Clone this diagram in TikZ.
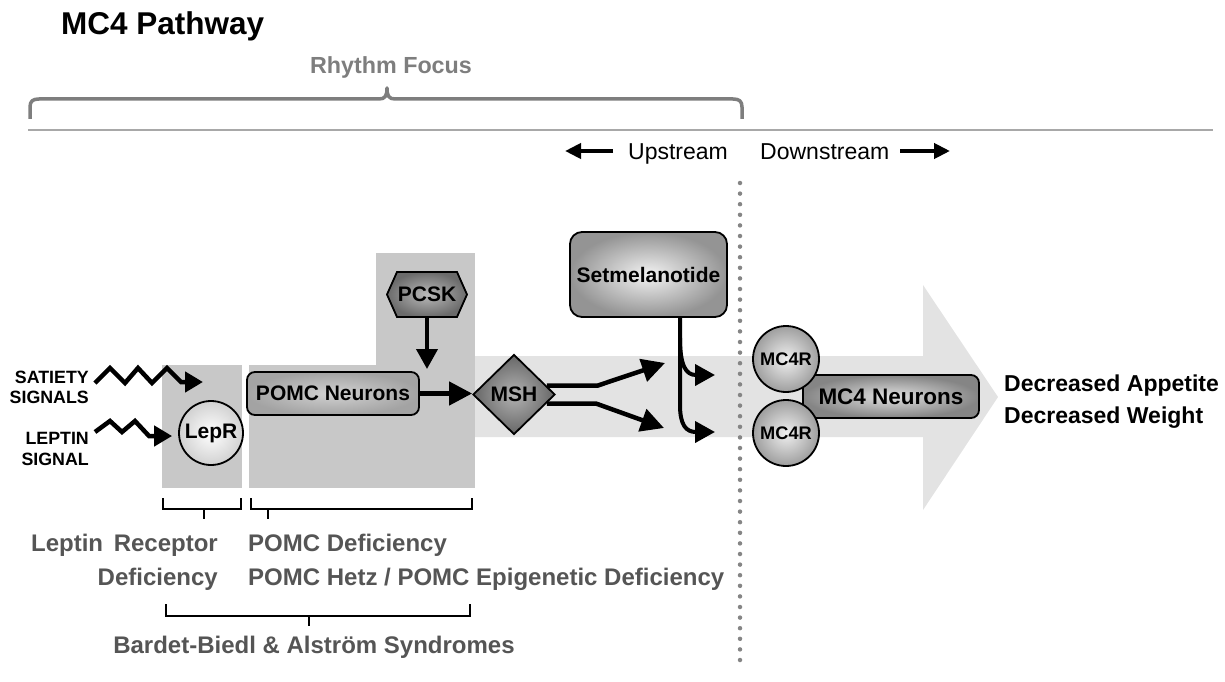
\documentclass[tikz,border=0pt]{standalone}
\usepackage{fontspec}
\setmainfont{Liberation Sans}
\usetikzlibrary{arrows.meta,shapes.geometric,calc}
\pgfdeclarelayer{bg}
\pgfdeclarelayer{mid}
\pgfsetlayers{bg,mid,main}
\definecolor{boxgray}{HTML}{C8C8C8}
\definecolor{arrgray}{HTML}{E3E3E3}
\definecolor{labgray}{HTML}{555555}
\definecolor{rhygray}{HTML}{7E7E7E}
\definecolor{linegray}{HTML}{A8A8A8}
\definecolor{dotgray}{HTML}{858585}
\tikzset{
  fs/.style={font=\fontsize{#1}{#1}\selectfont\bfseries},
  fr/.style={font=\fontsize{#1}{#1}\selectfont},
  nodebase/.style={draw=black, line width=1.8pt, text=black, inner sep=0pt, fs=21},
  pomcbox/.style={nodebase, rounded corners=8pt, minimum width=172pt, minimum height=43pt, inner color=white!82!black, outer color=white!64!black},
  setbox/.style={nodebase, rounded corners=12pt, minimum width=157pt, minimum height=85pt, inner color=white!95!black, outer color=white!58!black},
  neuronbox/.style={nodebase, fs=22.5, rounded corners=8pt, minimum width=176pt, minimum height=43pt, inner color=white!88!black, outer color=white!52!black},
  receptor/.style={nodebase, fs=18.2, circle, minimum size=66pt, inner color=white!94!black, outer color=white!62!black},
  leprc/.style={nodebase, circle, minimum size=64pt, inner color=white, outer color=white!82!black},
  mshd/.style={nodebase, diamond, minimum width=82pt, minimum height=80pt, inner color=white!70!black, outer color=white!40!black},
  hexfill/.style={draw=black, line width=1.8pt, inner color=white!73!black, outer color=white!42!black},
  conn/.style={line width=4.5pt, -{Triangle[length=23pt,width=23pt]}},
  connS/.style={line width=4pt, -{Triangle[length=20pt,width=21pt]}},
  zig/.style={line width=4.5pt, -{Triangle[length=18pt,width=20pt]}},
  dirarrow/.style={line width=4.5pt, -{Triangle[length=16pt,width=15pt]}},
  graylab/.style={fs=24, text=labgray, inner sep=0pt},
  sidelab/.style={fs=17.8, text=black, inner sep=0pt},
  reslab/.style={fs=23, text=black, inner sep=0pt},
  brk/.style={line width=2.6pt, black},
  bracestyle/.style={line width=3.5pt, rhygray, line join=round},
  dotline/.style={dotgray, line width=4.5pt, line cap=round, dash pattern=on 0pt off 10.6pt},
}
\begin{document}
\begin{tikzpicture}[x=1pt,y=-1pt]
\useasboundingbox (0,0) rectangle (1225,682);

% background shapes
\begin{pgfonlayer}{bg}
\fill[arrgray] (474,356) -- (923,356) -- (923,285) -- (998,397) -- (923,510) -- (923,437) -- (474,437) -- cycle;
\fill[boxgray] (162,365) rectangle (242,488);
\fill[boxgray] (249,365) rectangle (475,488);
\fill[boxgray] (376,253) rectangle (475,365);
\end{pgfonlayer}

% title and header
\node[fs=31.5, anchor=base west, inner sep=0pt] (title) at (61,35) {MC4 Pathway};
\node[fs=23.3, text=rhygray, anchor=base, inner sep=0pt] (rhythm) at (391,74) {Rhythm Focus};
\draw[bracestyle] (30,119) -- (30,107) .. controls (30,101) and (33,99) .. (39,99) -- (379,99)
  .. controls (385,99) and (387,96) .. (387,88) .. controls (387,96) and (389,99) .. (395,99)
  -- (733,99) .. controls (739,99) and (742,101) .. (742,107) -- (742,119);
\draw[linegray, line width=2.5pt] (28,130) -- (1213,130);

\node[fr=23, anchor=base west, inner sep=0pt] (up) at (628,159) {Upstream};
\node[fr=23, anchor=base west, inner sep=0pt] (down) at (760,159) {Downstream};
\coordinate (ua1) at (613,151);
\coordinate (ua2) at (565,151);
\coordinate (da1) at (900,151);
\coordinate (da2) at (950,151);
\draw[dirarrow] (ua1) -- (ua2);
\draw[dirarrow] (da1) -- (da2);

\draw[dotline] (740,183) -- (740,666);

% nodes
\node[pomcbox] (pomc) at (333,393.5) {POMC Neurons};
\node[leprc] (lepr) at (211,433) {LepR};
\shadedraw[hexfill] (387,294.5) -- (397,272) -- (457,272) -- (467,294.5) -- (457,317) -- (397,317) -- cycle;
\node[fs=21, minimum width=80pt, minimum height=45pt, inner sep=0pt] (pcsk) at (427,294.5) {PCSK};
\node[mshd] (msh) at (514,394.5) {MSH};
\node[setbox] (set) at (648.5,274.5) {Setmelanotide};
\node[neuronbox] (mc4n) at (891,396.5) {MC4 Neurons};
\node[receptor] (r1) at (786,359) {MC4R};
\node[receptor] (r2) at (786,433) {MC4R};

% side labels
\node[sidelab, anchor=base east] (sat1) at (89,383) {SATIETY};
\node[sidelab, anchor=base east] (sat2) at (89,403) {SIGNALS};
\node[sidelab, anchor=base east] (lep1) at (89,444) {LEPTIN};
\node[sidelab, anchor=base east] (lep2) at (89,465) {SIGNAL};

\node[reslab, anchor=base west] (res1) at (1004,391) {Decreased Appetite};
\node[reslab, anchor=base west] (res2) at (1004,423) {Decreased Weight};

% connector end points
\coordinate (sattip) at (203,382);
\coordinate (pcskend) at (427,369);
\coordinate (m1) at (665,363);
\coordinate (m2) at (664,428);
\coordinate (sb) at (680,338);
\coordinate (s1) at (715,375);
\coordinate (s2) at (715,432);

\begin{pgfonlayer}{mid}
\draw[zig] ($(sat1.base east)+(6,0)$) -- (110,368) -- (125,383) -- (138,368) -- (152,383) -- (167,368) -- (181,382) -- (sattip);
\draw[zig] ($(lep1.base east)+(6,-12)$) -- (110,421) -- (122,432) -- (135,421) -- (149,436) -- ($(lepr.west)+(-6,3)$);
\draw[connS] (pcsk.south) -- (pcskend);
\draw[conn] (pomc.east) -- (pomc.east -| msh.west);
\draw[conn] ($(msh.east)+(-9,-9)$) -- ++(51,0) -- (m1);
\draw[conn] ($(msh.east)+(-9,9)$) -- ++(49,0) -- (m2);
\draw[connS] ($(set.south)+(31.5,0)$) -- (680,405) .. controls (680,425) and (686,432) .. (s2);
\draw[connS] (sb) .. controls (680,366) and (686,375) .. (s1);
\end{pgfonlayer}

% brackets
\draw[brk] (163,498) -- (163,509) -- (241,509) -- (241,498);
\draw[brk] (204,509) -- (204,519);
\draw[brk] (251,498) -- (251,509) -- (472,509) -- (472,498);
\draw[brk] (268,509) -- (268,519);
\draw[brk] (166,604) -- (166,616) -- (470,616) -- (470,604);
\draw[brk] (309,616) -- (309,626);

% bottom labels
\node[graylab, anchor=base east] (lr1) at (218,551) {Leptin\kern4pt{} Receptor};
\node[graylab, anchor=base east] (lr2) at (218,585) {Deficiency};
\node[graylab, anchor=base west] (pd1) at (248,551) {POMC Deficiency};
\node[graylab, anchor=base west] (pd2) at (248,585) {POMC Hetz / POMC Epigenetic Deficiency};
\node[graylab, anchor=base] (bb) at (314,653) {Bardet-Biedl \& Alström Syndromes};
\end{tikzpicture}
\end{document}
